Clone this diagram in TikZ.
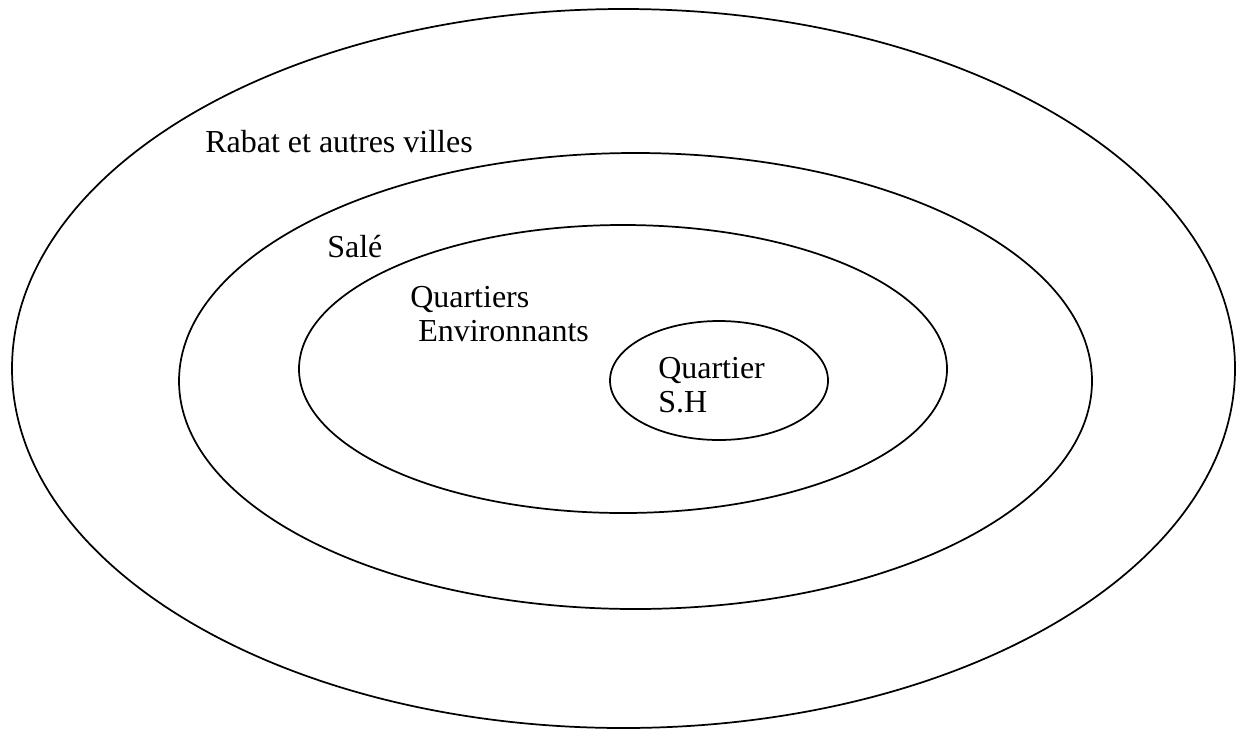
\documentclass[tikz,border=0pt]{standalone}
\usepackage{fontspec}
\setmainfont{Liberation Serif}
\usetikzlibrary{shapes.geometric}

\begin{document}
\begin{tikzpicture}[x=0.75pt, y=-0.75pt,
  zone/.style = {draw, ellipse, inner sep=0pt, line width=1.3pt},
  lbl/.style = {anchor=base west, inner sep=0pt, align=left, font=\fontsize{24}{25.5}\selectfont}]
				\useasboundingbox (0,0) rectangle (1237,729);
				\node[zone, minimum width=917.25pt, minimum height=539.25pt] (villes) at (623.5,368.5) {};
				\node[zone, minimum width=684.75pt, minimum height=342pt] (sale) at (635.5,381) {};
				\node[zone, minimum width=486pt, minimum height=216pt] (env) at (623,369) {};
				\node[zone, minimum width=163.5pt, minimum height=89.25pt] (sh) at (719,380.5) {};
				
				\node[lbl] (villesT) at (205,152) {Rabat et autres villes};
				\node[lbl] (saleT) at (327,257) {Salé};
				\node[lbl] (envT) at (410,341) {Quartiers\\~Environnants};
				\node[lbl] (shT) at (658,412) {Quartier\\S.H};
			\end{tikzpicture}
\end{document}
